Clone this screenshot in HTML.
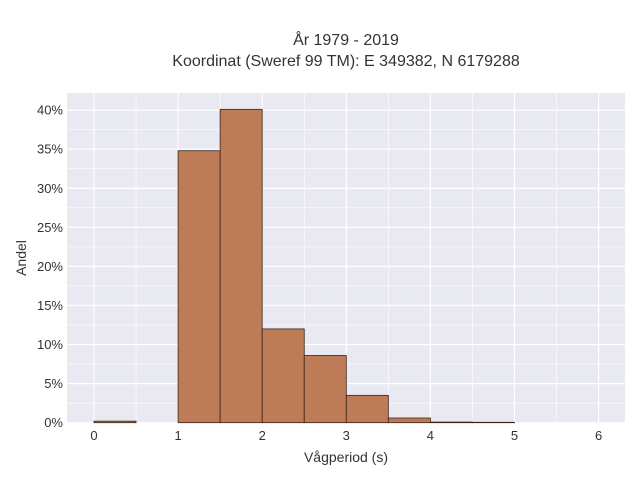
<!DOCTYPE html>
<html><head><meta charset="utf-8"><style>
body{margin:0;background:#fff;}
svg text{font-family:"Liberation Sans",sans-serif;fill:#333;}
</style></head><body>
<svg width="640" height="480">
<text x="346" y="45" text-anchor="middle" font-size="16">År 1979 - 2019</text>
<text x="346" y="66" text-anchor="middle" font-size="16">Koordinat (Sweref 99 TM): E 349382, N 6179288</text>
<rect x="67" y="93" width="558" height="330" fill="#e9e9f1"/>
<g id="grid"></g>
<g id="bars"></g>
<g id="ticks"></g>
<text x="346" y="462" text-anchor="middle" font-size="14">Vågperiod (s)</text>
<text transform="translate(26,258) rotate(-90)" text-anchor="middle" font-size="14">Andel</text>
</svg>
<script>
const binStarts=[0,0.5,1,1.5,2,2.5,3,3.5,4,4.5];
const binValues=[0.2,0,34.8,40.1,12.0,8.6,3.5,0.6,0.08,0.05];
const xTicks=[0,1,2,3,4,5,6];
const yTicks=[0,5,10,15,20,25,30,35,40];
const binWidth=0.5;
const X=v=>94+v*84.1, Y=v=>422.7-v*7.815;
const NS="http://www.w3.org/2000/svg";
const g=document.getElementById('grid'),b=document.getElementById('bars'),t=document.getElementById('ticks');
function mk(tag,attrs,parent){const e=document.createElementNS(NS,tag);for(const k in attrs)e.setAttribute(k,attrs[k]);parent.appendChild(e);return e;}
for(let i=-0.5;i<=6.5;i+=0.5){const x=X(i);if(x<67||x>625)continue;
 const l=mk('line',{x1:x,x2:x,y1:93,y2:423,stroke:'#fff','stroke-width':Number.isInteger(i)?1.2:0.6},g);
 
 }
for(let v=0;v<=42.5;v+=2.5){const y=Y(v);if(y<93)continue;
 const l=mk('line',{x1:67,x2:625,y1:y,y2:y,stroke:'#fff','stroke-width':v%5===0?1.2:0.6},g);
 
 }
binStarts.forEach((s,i)=>{const v=binValues[i];if(v<=0)return;
 const r=mk('rect',{x:X(s),y:Y(v),width:X(s+binWidth)-X(s),height:Y(0)-Y(v),fill:'#bd7c57',stroke:'#3a2418','stroke-width':0.8},b);
 
 });
xTicks.forEach(v=>{const e=mk('text',{x:X(v),y:440,'text-anchor':'middle','font-size':13},t);e.textContent=v;
 
 });
yTicks.forEach(v=>{const e=mk('text',{x:63,y:Y(v)+4.5,'text-anchor':'end','font-size':13},t);e.textContent=v+'%';
 
 });
</script>
</body></html>
